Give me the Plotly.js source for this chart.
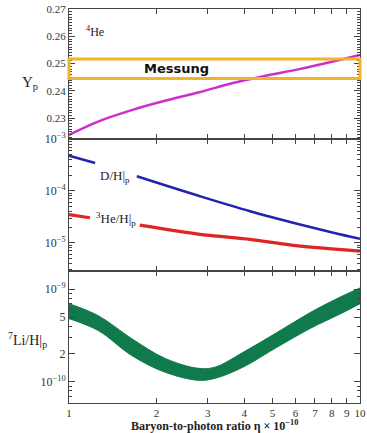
<!DOCTYPE html>
<html>
<head>
<meta charset="utf-8">
<script src="https://cdn.plot.ly/plotly-3.0.1.min.js"></script>
<style>html,body{margin:0;padding:0;background:#fff;}#chart{width:367px;height:433px;}</style>
</head>
<body>
<div id="chart"></div>
<script>
// 4He mass fraction Yp
const etaYp = [1.0, 1.258, 1.643, 2.136, 2.777, 3.63, 4.71, 6.12, 8.0, 10.0];
const Yp = [0.2239, 0.2288, 0.2330, 0.2364, 0.2394, 0.2428, 0.2455, 0.2479, 0.2507, 0.2532];
// Measurement band
const mesLow = 0.2446, mesHigh = 0.2517;
// D/H (null = gap around label)
const etaD = [1.0, 1.23, 1.47, 1.71, 2.82, 4.19, 6.22, 8.1, 10.0];
const DH = [4.77e-4, 3.45e-4, null, 1.91e-4, 7.87e-5, 4.05e-5, 2.25e-5, 1.56e-5, 1.19e-5];
// 3He/H
const etaHe3 = [1.0, 1.18, 1.45, 1.75, 2.82, 4.19, 6.22, 10.0];
const He3H = [3.50e-5, 3.03e-5, null, 2.18e-5, 1.45e-5, 1.16e-5, 8.6e-6, 6.9e-6];
// 7Li/H band
const etaLi = [1.0, 1.26, 1.64, 2.14, 2.78, 3.17, 3.96, 5.18, 6.73, 8.72, 10.0];
const LiUpper = [6.97e-10, 5.18e-10, 2.94e-10, 1.79e-10, 1.40e-10, 1.44e-10, 2.08e-10, 3.40e-10, 5.57e-10, 8.47e-10, 1.03e-9];
const LiLower = [4.81e-10, 3.58e-10, 1.93e-10, 1.27e-10, 1.04e-10, 1.09e-10, 1.44e-10, 2.36e-10, 3.76e-10, 5.57e-10, 6.97e-10];
// x tick labels
const xTicks = [1,2,3,4,5,6,7,8,9,10];
const xTickText = ['1','2','3','4','5','6','7','8','9','10'];
// y tick labels on the log panels
const y2Ticks = [1e-5, 1e-4, 1e-3];
const y2TickText = ['10<sup>−5</sup>', '10<sup>−4</sup>', '10<sup>−3</sup>'];
const y3Ticks = [1e-10, 2e-10, 5e-10, 1e-9];
const y3TickText = ['10<sup>−10</sup>', '2', '5', '10<sup>−9</sup>'];
// minor tick values on the log axes
const minorTicks2 = [3e-6,4e-6,5e-6,6e-6,7e-6,8e-6,9e-6,2e-5,3e-5,4e-5,5e-5,6e-5,7e-5,8e-5,9e-5,2e-4,3e-4,4e-4,5e-4,6e-4,7e-4,8e-4,9e-4];
const minorTicks3 = [6e-11,7e-11,8e-11,9e-11,3e-10,4e-10,6e-10,7e-10,8e-10,9e-10];

const serif = 'Liberation Serif, Times New Roman, serif';
const tickFont = {family: serif, size: 11, color: '#333'};
const logTickFont = {family: serif, size: 12, color: '#333'};

const data = [
  {x: etaYp, y: Yp, xaxis: 'x3', yaxis: 'y3', mode: 'lines', line: {color: '#cc2fcc', width: 2.5, shape: 'spline'}, hoverinfo: 'skip'},
  {x: etaD, y: DH, xaxis: 'x2', yaxis: 'y2', mode: 'lines', line: {color: '#2222b0', width: 2.5, shape: 'spline'}, connectgaps: false, hoverinfo: 'skip'},
  {x: etaHe3, y: He3H, xaxis: 'x2', yaxis: 'y2', mode: 'lines', line: {color: '#e02424', width: 3.2, shape: 'spline', smoothing: 0.6}, connectgaps: false, hoverinfo: 'skip'},
  {x: etaLi, y: LiLower, xaxis: 'x', yaxis: 'y', mode: 'lines', line: {color: '#117a4c', width: 1, shape: 'spline'}, hoverinfo: 'skip'},
  {x: etaLi, y: LiUpper, xaxis: 'x', yaxis: 'y', mode: 'lines', fill: 'tonexty', fillcolor: '#117a4c', line: {color: '#117a4c', width: 1, shape: 'spline'}, hoverinfo: 'skip'}
];

function xax(showLabels) {
  return {
    type: 'log', range: [0, 1], tickmode: 'array', tickvals: xTicks, ticktext: xTickText,
    showticklabels: showLabels, ticks: 'inside', ticklen: 5, tickcolor: '#444',
    showline: true, linecolor: '#444', linewidth: 1, mirror: 'ticks',
    showgrid: false, zeroline: false, tickfont: tickFont
  };
}
function yax(extra) {
  return Object.assign({
    ticks: 'inside', ticklen: 6, tickcolor: '#444', showline: true, linecolor: '#444', linewidth: 1,
    mirror: 'ticks', showgrid: false, zeroline: false, tickfont: tickFont
  }, extra);
}

const layout = {
  width: 367, height: 433,
  margin: {l: 69, r: 7, t: 9, b: 30},
  paper_bgcolor: '#fff', plot_bgcolor: '#fff',
  showlegend: false,
  xaxis: Object.assign(xax(true), {anchor: 'y'}),
  xaxis2: Object.assign(xax(false), {anchor: 'y2'}),
  xaxis3: Object.assign(xax(false), {anchor: 'y3'}),
  yaxis: yax({domain: [0, 0.335], type: 'log', range: [-10.228, -8.804], tickmode: 'array', tickvals: y3Ticks, ticktext: y3TickText, anchor: 'x',
    tickfont: logTickFont,
    minor: {ticks: 'inside', ticklen: 3, tickcolor: '#444', tickmode: 'array', tickvals: minorTicks3}}),
  yaxis2: yax({domain: [0.335, 0.670], type: 'log', range: [-5.545, -3], tickmode: 'array', tickvals: y2Ticks, ticktext: y2TickText, anchor: 'x2',
    tickfont: logTickFont,
    minor: {ticks: 'inside', ticklen: 3, tickcolor: '#444', tickmode: 'array', tickvals: minorTicks2}}),
  yaxis3: yax({domain: [0.670, 1], range: [0.2224, 0.27], dtick: 0.01, tickformat: '.2f', anchor: 'x3',
    minor: {ticks: 'inside', ticklen: 3, tickcolor: '#444', dtick: 0.001}}),
  shapes: [
    {type: 'rect', xref: 'x3 domain', yref: 'y3', x0: 0, x1: 1, y0: mesLow, y1: mesHigh,
     line: {color: '#f2b328', width: 3}, fillcolor: 'rgba(0,0,0,0)'}
  ],
  annotations: [
    {xref: 'paper', yref: 'paper', x: 0.052, y: 0.944, xanchor: 'left', yanchor: 'middle', showarrow: false,
     text: '<sup>4</sup>He', font: {family: serif, size: 12, color: '#222'}},
    {xref: 'paper', yref: 'paper', x: -0.134, y: 0.812, xanchor: 'center', yanchor: 'middle', showarrow: false,
     text: 'Y<sub>p</sub>', font: {family: serif, size: 15, color: '#222'}},
    {xref: 'paper', yref: 'paper', x: 0.368, y: 0.848, xanchor: 'center', yanchor: 'middle', showarrow: false,
     text: '<b>Messung</b>', font: {family: 'DejaVu Sans, sans-serif', size: 13, color: '#111'}},
    {xref: 'paper', yref: 'paper', x: 0.158, y: 0.574, xanchor: 'center', yanchor: 'middle', showarrow: false,
     text: 'D/H|<sub>p</sub>', font: {family: serif, size: 13, color: '#222'}},
    {xref: 'paper', yref: 'paper', x: 0.162, y: 0.467, xanchor: 'center', yanchor: 'middle', showarrow: false,
     text: '<sup>3</sup>He/H|<sub>p</sub>', font: {family: serif, size: 13, color: '#222'}},
    {xref: 'paper', yref: 'paper', x: -0.144, y: 0.16, xanchor: 'center', yanchor: 'middle', showarrow: false,
     text: '<sup>7</sup>Li/H|<sub>p</sub>', font: {family: serif, size: 14, color: '#222'}},
    {xref: 'paper', yref: 'paper', x: 0.5, y: -0.056, xanchor: 'center', yanchor: 'middle', showarrow: false,
     text: '<b>Baryon-to-photon ratio η × 10<sup>−10</sup></b>', font: {family: serif, size: 12, color: '#222'}}
  ]
};

Plotly.newPlot('chart', data, layout, {staticPlot: true, displayModeBar: false});
</script>
</body>
</html>
